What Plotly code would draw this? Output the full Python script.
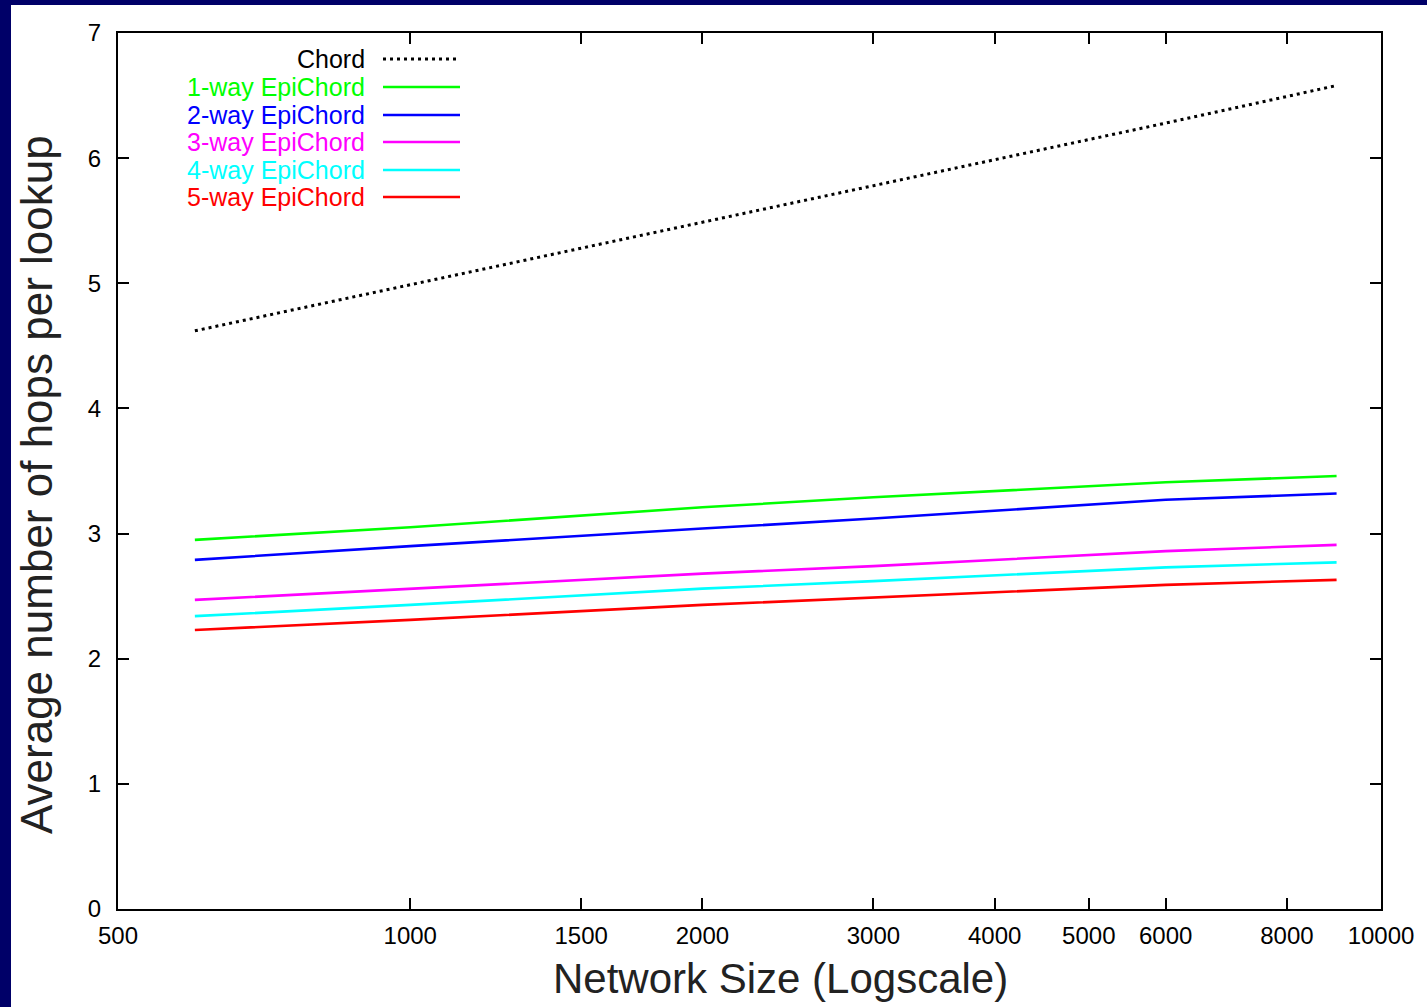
import plotly.graph_objects as go

network_size = [600, 1000, 2000, 3000, 6000, 9000]
chord = [4.62, 4.99, 5.49, 5.78, 6.28, 6.58]
epi_1way = [2.95, 3.05, 3.21, 3.29, 3.41, 3.46]
epi_2way = [2.79, 2.90, 3.04, 3.12, 3.27, 3.32]
epi_3way = [2.47, 2.56, 2.68, 2.74, 2.86, 2.91]
epi_4way = [2.34, 2.43, 2.56, 2.62, 2.73, 2.77]
epi_5way = [2.23, 2.31, 2.43, 2.49, 2.59, 2.63]

series_names = ["Chord", "1-way EpiChord", "2-way EpiChord", "3-way EpiChord",
                "4-way EpiChord", "5-way EpiChord"]
series_values = [chord, epi_1way, epi_2way, epi_3way, epi_4way, epi_5way]
series_colors = ["#000000", "#00ff00", "#0000ff", "#ff00ff", "#00ffff", "#ff0000"]
series_dash = ["3px,4px", "solid", "solid", "solid", "solid", "solid"]

x_tickvals = [500, 1000, 1500, 2000, 3000, 4000, 5000, 6000, 8000, 10000]
x_ticktext = ["500", "1000", "1500", "2000", "3000", "4000", "5000", "6000", "8000", "10000"]
y_tickvals = [0, 1, 2, 3, 4, 5, 6, 7]

x_title = "Network Size (Logscale)"
y_title = "Average number of hops per lookup"

FONT = "Liberation Sans, Arial, sans-serif"
W, H = 1427, 1007
L, R, T, B = 118, 46, 33, 98
PW, PH = W - L - R, H - T - B

def px(x):
    return (x - L) / PW

def py(y):
    return (H - B - y) / PH

fig = go.Figure()
for name, vals, col, dash in zip(series_names, series_values, series_colors, series_dash):
    fig.add_trace(go.Scatter(x=network_size, y=vals, mode="lines", name=name,
                             line=dict(color=col, width=2.6 if dash == "solid" else 3, dash=dash),
                             showlegend=False))

shapes = [dict(type="rect", xref="paper", yref="paper", layer="below",
               x0=px(11), x1=px(W + 5), y0=py(H + 5), y1=py(5),
               fillcolor="white", line=dict(width=0))]
annotations = []
legend_rows = [59, 87, 115, 142, 170, 197]
for name, col, dash, ry in zip(series_names, series_colors, series_dash, legend_rows):
    annotations.append(dict(xref="paper", yref="paper", x=px(367), y=py(ry),
                            xanchor="right", yanchor="middle", text=name, showarrow=False,
                            font=dict(family=FONT, size=25, color=col)))
    shapes.append(dict(type="line", xref="paper", yref="paper",
                       x0=px(383), x1=px(460), y0=py(ry), y1=py(ry),
                       line=dict(color=col, width=2.6 if dash == "solid" else 3, dash=dash)))

annotations.append(dict(xref="paper", yref="paper", x=px(780), y=py(978),
                        xanchor="center", yanchor="middle", text=x_title, showarrow=False,
                        font=dict(family=FONT, size=42, color="#222222")))
annotations.append(dict(xref="paper", yref="paper", x=px(36), y=py(485),
                        xanchor="center", yanchor="middle", text=y_title, showarrow=False,
                        textangle=-90,
                        font=dict(family=FONT, size=44, color="#222222")))

fig.update_layout(
    width=W, height=H,
    margin=dict(l=L, r=R, t=T, b=B),
    paper_bgcolor="#000068",
    plot_bgcolor="white",
    font=dict(family=FONT, color="black"),
    shapes=shapes,
    annotations=annotations,
    xaxis=dict(type="log", range=[2.69897, 4.0], tickvals=x_tickvals, ticktext=x_ticktext,
               ticks="inside", ticklen=11, tickwidth=1.5, tickcolor="black",
               showline=True, linecolor="black", linewidth=2, mirror="allticks",
               showgrid=False, zeroline=False, ticklabelstandoff=4,
               tickfont=dict(family=FONT, size=24, color="black")),
    yaxis=dict(range=[0, 7], tickvals=y_tickvals,
               ticks="inside", ticklen=11, tickwidth=1.5, tickcolor="black",
               showline=True, linecolor="black", linewidth=2, mirror="allticks",
               showgrid=False, zeroline=False, ticklabelstandoff=10,
               tickfont=dict(family=FONT, size=24, color="black")),
)

fig.write_html("out.html", config={"displayModeBar": False},
               post_script="document.body.style.margin='0px';")
